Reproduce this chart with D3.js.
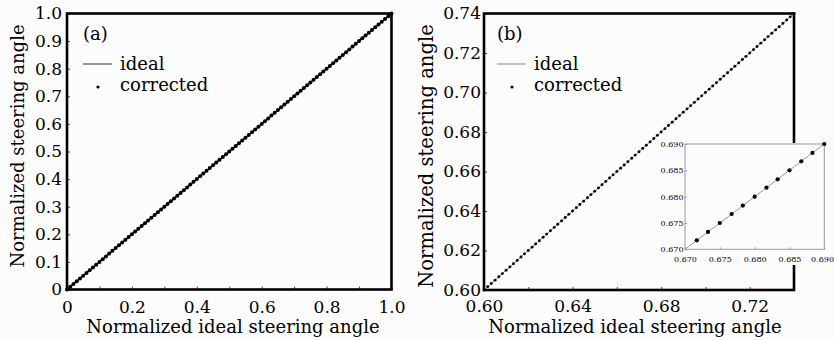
<!DOCTYPE html>
<html>
<head>
<meta charset="utf-8">
<script src="https://cdn.jsdelivr.net/npm/d3@7/dist/d3.min.js"></script>
<style>
  html, body { margin: 0; padding: 0; background: #fcfcfc; }
  svg { display: block; }
  text { font-family: "DejaVu Serif", serif; fill: #000; }
</style>
</head>
<body>
<svg id="fig" width="834" height="340"></svg>
<script>
// ---- data ----
// Panel (a): full range, ideal vs corrected steering angle
const idealA = [0, 1];
const correctedA = [
  0.00,0.01,0.02,0.03,0.04,0.05,0.06,0.07,0.08,0.09,
  0.10,0.11,0.12,0.13,0.14,0.15,0.16,0.17,0.18,0.19,
  0.20,0.21,0.22,0.23,0.24,0.25,0.26,0.27,0.28,0.29,
  0.30,0.31,0.32,0.33,0.34,0.35,0.36,0.37,0.38,0.39,
  0.40,0.41,0.42,0.43,0.44,0.45,0.46,0.47,0.48,0.49,
  0.50,0.51,0.52,0.53,0.54,0.55,0.56,0.57,0.58,0.59,
  0.60,0.61,0.62,0.63,0.64,0.65,0.66,0.67,0.68,0.69,
  0.70,0.71,0.72,0.73,0.74,0.75,0.76,0.77,0.78,0.79,
  0.80,0.81,0.82,0.83,0.84,0.85,0.86,0.87,0.88,0.89,
  0.90,0.91,0.92,0.93,0.94,0.95,0.96,0.97,0.98,0.99,1.00
];
// Panel (b): zoom on 0.60 - 0.74
const idealB = [0.60, 0.74];
const correctedB = [
  0.6000,0.6017,0.6033,0.6050,0.6067,0.6083,0.6100,0.6117,0.6133,0.6150,
  0.6167,0.6183,0.6200,0.6217,0.6233,0.6250,0.6267,0.6283,0.6300,0.6317,
  0.6333,0.6350,0.6367,0.6383,0.6400,0.6417,0.6433,0.6450,0.6467,0.6483,
  0.6500,0.6517,0.6533,0.6550,0.6567,0.6583,0.6600,0.6617,0.6633,0.6650,
  0.6667,0.6683,0.6700,0.6717,0.6733,0.6750,0.6767,0.6783,0.6800,0.6817,
  0.6833,0.6850,0.6867,0.6883,0.6900,0.6917,0.6933,0.6950,0.6967,0.6983,
  0.7000,0.7017,0.7033,0.7050,0.7067,0.7083,0.7100,0.7117,0.7133,0.7150,
  0.7167,0.7183,0.7200,0.7217,0.7233,0.7250,0.7267,0.7283,0.7300,0.7317,
  0.7333,0.7350,0.7367,0.7383,0.7400
];
// Inset of panel (b): 0.670 - 0.690
const idealInset = [0.670, 0.690];
const correctedInset = [0.6717,0.6733,0.6750,0.6767,0.6783,0.6800,0.6817,0.6833,0.6850,0.6867,0.6883,0.6900];

// ---- ticks ----
const ticksA = [0,0.1,0.2,0.3,0.4,0.5,0.6,0.7,0.8,0.9,1.0];
const yLabelsA = ["0","0.1","0.2","0.3","0.4","0.5","0.6","0.7","0.8","0.9","1.0"];
const xLabelsA = ["0","","0.2","","0.4","","0.6","","0.8","","1.0"];
const ticksB = [0.60,0.62,0.64,0.66,0.68,0.70,0.72,0.74];
const yLabelsB = ["0.60","0.62","0.64","0.66","0.68","0.70","0.72","0.74"];
const xLabelsB = ["0.60","","0.64","","0.68","","0.72",""];
const ticksInset = [0.670,0.675,0.680,0.685,0.690];
const labelsInset = ["0.670","0.675","0.680","0.685","0.690"];

const xTitle = "Normalized ideal steering angle";
const yTitle = "Normalized steering angle";
const legendIdeal = "ideal";
const legendCorrected = "corrected";

const svg = d3.select("#fig");

function labelFrom(ticks, labels) {
  return v => labels[ticks.findIndex(t => Math.abs(t - v) < 1e-9)];
}

function frameAxes(g, x, y, ticks, xLabels, yLabels, opt) {
  const ax = g.append("g")
    .attr("transform", `translate(0,${y.range()[0]})`)
    .call(d3.axisBottom(x).tickValues(ticks).tickFormat(labelFrom(ticks, xLabels))
      .tickSize(-opt.tick).tickPadding(opt.xPad));
  const ay = g.append("g")
    .attr("transform", `translate(${x.range()[0]},0)`)
    .call(d3.axisLeft(y).tickValues(ticks).tickFormat(labelFrom(ticks, yLabels))
      .tickSize(-opt.tick).tickPadding(opt.yPad));
  [ax, ay].forEach(a => {
    a.select(".domain").remove();
    a.selectAll(".tick line").attr("stroke", opt.tickColor).attr("stroke-width", 1);
    a.selectAll(".tick text").attr("font-size", opt.font).attr("fill", opt.textColor)
      .attr("font-family", "DejaVu Serif, serif");
  });
  g.append("rect")
    .attr("x", x.range()[0]).attr("y", y.range()[1])
    .attr("width", x.range()[1] - x.range()[0])
    .attr("height", y.range()[0] - y.range()[1])
    .attr("fill", "none").attr("stroke", opt.frameColor).attr("stroke-width", opt.frame);
  return ax;
}

function titles(g, xc, xb, yx, yc, ySize) {
  g.append("text").attr("x", xc).attr("y", xb).attr("text-anchor", "middle")
    .attr("font-size", 18).text(xTitle);
  g.append("text").attr("transform", `translate(${yx},${yc}) rotate(-90)`)
    .attr("text-anchor", "middle").attr("font-size", ySize).text(yTitle);
}

function legend(g, tag, x0, lineColor, lineW) {
  g.append("text").attr("x", x0).attr("y", 40).attr("font-size", 18).text(tag);
  g.append("line").attr("x1", x0).attr("x2", x0 + 29).attr("y1", 64).attr("y2", 64)
    .attr("stroke", lineColor).attr("stroke-width", lineW);
  g.append("text").attr("x", x0 + 37).attr("y", 70).attr("font-size", 18).text(legendIdeal);
  g.append("circle").attr("cx", x0 + 15).attr("cy", 87).attr("r", 1.6).attr("fill", "#000");
  g.append("text").attr("x", x0 + 37).attr("y", 91).attr("font-size", 18).text(legendCorrected);
}

// ---- panel (a) ----
const xA = d3.scaleLinear().domain([0, 1]).range([67, 391.5]);
const yA = d3.scaleLinear().domain([0, 1]).range([289.5, 13.5]);
const gA = svg.append("g");
gA.append("line")
  .attr("x1", xA(idealA[0])).attr("y1", yA(idealA[0]))
  .attr("x2", xA(idealA[1])).attr("y2", yA(idealA[1]))
  .attr("stroke", "#000").attr("stroke-width", 1.5);
gA.selectAll("circle.pt").data(correctedA).join("circle").attr("class", "pt")
  .attr("cx", d => xA(d)).attr("cy", d => yA(d)).attr("r", 2).attr("fill", "#000");
frameAxes(gA, xA, yA, ticksA, xLabelsA, yLabelsA,
  { tick: 3, xPad: 11, yPad: 5, font: 17, frame: 2.6, frameColor: "#000", tickColor: "#444", textColor: "#000" });
titles(gA, 233, 333, 24, 146, 18);
legend(gA, "(a)", 83, "#333", 1);

// ---- panel (b) ----
const xB = d3.scaleLinear().domain([0.60, 0.74]).range([484, 794]);
const yB = d3.scaleLinear().domain([0.60, 0.74]).range([290, 13.5]);
const gB = svg.append("g");
gB.append("line")
  .attr("x1", xB(idealB[0])).attr("y1", yB(idealB[0]))
  .attr("x2", xB(idealB[1])).attr("y2", yB(idealB[1]))
  .attr("stroke", "#888").attr("stroke-width", 1);
gB.selectAll("circle.pt").data(correctedB).join("circle").attr("class", "pt")
  .attr("cx", d => xB(d)).attr("cy", d => yB(d)).attr("r", 1.45).attr("fill", "#000");
frameAxes(gB, xB, yB, ticksB, xLabelsB, yLabelsB,
  { tick: 3, xPad: 10, yPad: 3, font: 17, frame: 2.6, frameColor: "#000", tickColor: "#444", textColor: "#000" });
titles(gB, 635, 333, 433, 156, 19.5);
legend(gB, "(b)", 497, "#888", 1);

// ---- inset ----
const xI = d3.scaleLinear().domain([0.670, 0.690]).range([685, 824.3]);
const yI = d3.scaleLinear().domain([0.670, 0.690]).range([249.3, 144]);
const gI = svg.append("g");
gI.append("rect").attr("x", 683).attr("y", 143).attr("width", 151).attr("height", 122)
  .attr("fill", "#fcfcfc");
const axI = frameAxes(gI, xI, yI, ticksInset, labelsInset, labelsInset,
  { tick: 2, xPad: 7, yPad: 1.5, font: 8, frame: 1, frameColor: "#999", tickColor: "#999", textColor: "#333" });
// keep the last inset label inside the figure's right edge
axI.selectAll(".tick text").filter(d => Math.abs(d - 0.690) < 1e-9)
  .attr("text-anchor", "end").attr("x", 833.5 - xI(0.690));
gI.append("line")
  .attr("x1", xI(idealInset[0])).attr("y1", yI(idealInset[0]))
  .attr("x2", xI(idealInset[1])).attr("y2", yI(idealInset[1]))
  .attr("stroke", "#999").attr("stroke-width", 1);
gI.selectAll("circle.pt").data(correctedInset).join("circle").attr("class", "pt")
  .attr("cx", d => xI(d)).attr("cy", d => yI(d)).attr("r", 2.1).attr("fill", "#000");
</script>
</body>
</html>
